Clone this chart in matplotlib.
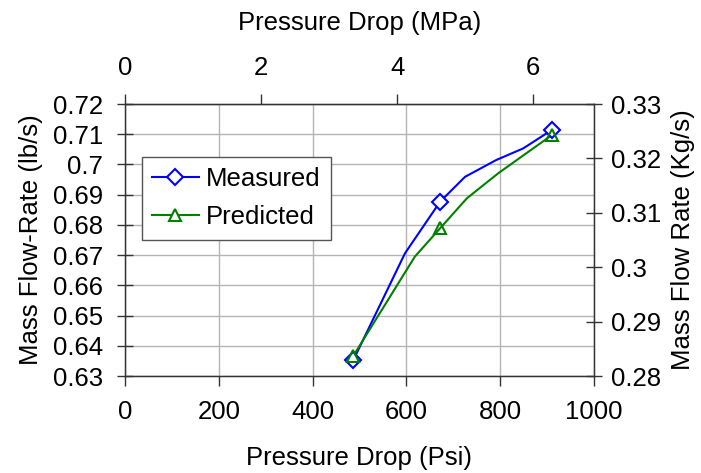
import matplotlib
matplotlib.use("Agg")
import matplotlib.pyplot as plt
from matplotlib.lines import Line2D

plt.rcParams['font.family'] = ['Liberation Sans', 'DejaVu Sans']

# Measured and predicted mass flow rate vs pressure drop (marked test points)
psi = [487, 672, 910]
measured = [0.6353, 0.6877, 0.7114]
predicted = [0.6367, 0.6789, 0.7097]

# Points along the drawn trend curves
measured_curve_psi = [487, 597, 672, 725, 792, 849, 910]
measured_curve = [0.6353, 0.6706, 0.6877, 0.6959, 0.7015, 0.7053, 0.7114]
predicted_curve_psi = [487, 618, 672, 729, 796, 910]
predicted_curve = [0.6367, 0.6695, 0.6789, 0.6888, 0.6971, 0.7097]

psi_ticks = [0, 200, 400, 600, 800, 1000]
lb_ticks = [0.63, 0.64, 0.65, 0.66, 0.67, 0.68, 0.69, 0.70, 0.71, 0.72]
lb_labels = ['0.63', '0.64', '0.65', '0.66', '0.67', '0.68', '0.69', '0.7', '0.71', '0.72']
kg_ticks = [0.28, 0.29, 0.30, 0.31, 0.32, 0.33]
kg_labels = ['0.28', '0.29', '0.3', '0.31', '0.32', '0.33']
mpa_ticks = [0, 2, 4, 6]
PSI_TO_MPA = 0.006895

FS = 18.5

fig = plt.figure(figsize=(7.01, 4.73), dpi=100)
ax = fig.add_axes([125 / 701, 1 - 376 / 473, (594 - 125) / 701, (376 - 104) / 473])

ax.set_xlim(0, 1000)
ax.set_ylim(0.63, 0.72)
ax.set_xticks(psi_ticks)
ax.set_yticks(lb_ticks)
ax.set_yticklabels(lb_labels)
ax.grid(True, color='#b4b4b4', linewidth=1.0)
ax.set_axisbelow(True)

spine_c = '#333333'
for s in ax.spines.values():
    s.set_color(spine_c)
    s.set_linewidth(1.0)

ax.tick_params(axis='x', direction='out', length=7, width=1, colors=spine_c,
               labelcolor='black', labelsize=FS, pad=10)
ax.tick_params(axis='y', direction='inout', length=12, width=1, colors=spine_c,
               labelcolor='black', labelsize=FS, pad=10)

colors = {'Measured': '#0000ff', 'Predicted': '#008000'}
LW = 1.5

ax.plot(measured_curve_psi, measured_curve, color=colors['Measured'],
        linewidth=LW, zorder=3)
ax.plot(predicted_curve_psi, predicted_curve, color=colors['Predicted'],
        linewidth=LW, zorder=3)
ax.plot(psi, measured, linestyle='none', marker='D', markersize=8.5,
        markerfacecolor='white', markeredgecolor=colors['Measured'],
        markeredgewidth=1.5, zorder=4)
ax.plot(psi, predicted, linestyle='none', marker='^', markersize=9,
        markerfacecolor='none', markeredgecolor=colors['Predicted'],
        markeredgewidth=1.5, zorder=5)

ax.set_xlabel('Pressure Drop (Psi)', fontsize=FS, labelpad=16)
ax.set_ylabel('Mass Flow-Rate (lb/s)', fontsize=FS, labelpad=7)

# Right axis in kg/s
ax2 = ax.twinx()
ax2.set_ylim(0.28, 0.33)
ax2.set_yticks(kg_ticks)
ax2.set_yticklabels(kg_labels)
ax2.tick_params(axis='y', direction='inout', length=12, width=1, colors=spine_c,
                labelcolor='black', labelsize=FS, pad=6)
for s in ax2.spines.values():
    s.set_color(spine_c)
ax2.set_ylabel('Mass Flow Rate (Kg/s)', fontsize=FS, labelpad=7)

# Top axis in MPa
top = ax.secondary_xaxis('top', functions=(lambda p: p * PSI_TO_MPA,
                                           lambda m: m / PSI_TO_MPA))
top.set_xticks(mpa_ticks)
top.tick_params(direction='out', length=7, width=1, colors=spine_c,
                labelcolor='black', labelsize=FS, pad=10)
top.spines['top'].set_color(spine_c)
top.set_xlabel('Pressure Drop (MPa)', fontsize=FS, labelpad=19)

handles = [
    Line2D([], [], color=colors['Measured'], linewidth=LW, marker='D',
           markersize=8.5, markerfacecolor='white',
           markeredgecolor=colors['Measured'], markeredgewidth=1.5),
    Line2D([], [], color=colors['Predicted'], linewidth=LW, marker='^',
           markersize=9, markerfacecolor='white',
           markeredgecolor=colors['Predicted'], markeredgewidth=1.5),
]
leg = ax.legend(handles, ['Measured', 'Predicted'], loc='upper left',
                bbox_to_anchor=(17 / 469, 1 - 53 / 272), fontsize=FS,
                frameon=True, fancybox=False, framealpha=1,
                edgecolor='#555555', handlelength=1.8, handletextpad=0.3,
                borderpad=0.4, labelspacing=0.55, borderaxespad=0)
leg.get_frame().set_linewidth(1.0)

fig.savefig('out.png', dpi=100)
